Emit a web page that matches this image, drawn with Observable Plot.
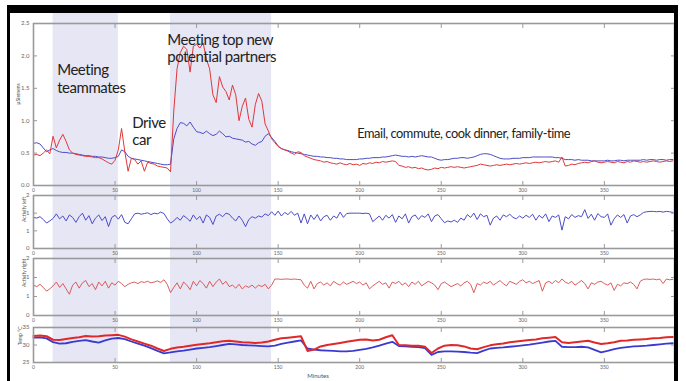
<!DOCTYPE html>
<html>
<head>
<meta charset="utf-8">
<script src="https://cdn.jsdelivr.net/npm/d3@7"></script>
<script src="https://cdn.jsdelivr.net/npm/@observablehq/plot@0.6"></script>
<style>
  html, body { margin: 0; padding: 0; background: #fff; }
  #fig { position: relative; width: 686px; height: 381px; overflow: hidden; background: #fff; }
  #fig svg { position: absolute; left: 0; }
  .edge { position: absolute; background: #000; z-index: 5; }
</style>
</head>
<body>
<div id="fig"></div>
<script>
// ---- Time axis ----
const minuteMax = 393;
const minuteTicks = [0, 50, 100, 150, 200, 250, 300, 350];

// ---- Shaded episodes (minutes) ----
const shadeStart = [12, 84];
const shadeEnd = [52, 146];

// ---- Annotations ----
const noteText = ["Meeting\nteammates", "Drive\ncar", "Meeting top new\npotential partners", "Email, commute, cook dinner, family-time"];
const noteMinute = [14.5, 60.5, 82, 198.5];
const noteLevel = [1.89, 1.08, 2.36, 0.89];

// ---- Skin conductance (μSiemens), one sample every 2 minutes ----
const eda = {
  right: [
    0.47, 0.48, 0.46, 0.50, 0.55, 0.49, 0.76, 0.58, 0.70, 0.79,
    0.68, 0.55, 0.50, 0.48, 0.47, 0.46, 0.45, 0.45, 0.44, 0.43,
    0.43, 0.41, 0.38, 0.35, 0.33, 0.39, 0.55, 0.88, 0.52, 0.22,
    0.42, 0.40, 0.33, 0.38, 0.22, 0.36, 0.34, 0.33, 0.30, 0.29,
    0.28, 0.27, 0.21, 1.15, 1.80, 2.05, 2.15, 2.10, 1.75, 2.15,
    2.18, 2.12, 2.20, 1.95, 1.80, 1.40, 1.28, 1.68, 1.52, 1.45,
    1.32, 1.55, 1.40, 1.00, 1.22, 1.35, 1.02, 0.90, 1.25, 1.42,
    1.30, 0.95, 0.84, 0.72, 0.66, 0.60, 0.57, 0.55, 0.53, 0.50,
    0.48, 0.52, 0.51, 0.46, 0.44, 0.42, 0.40, 0.39, 0.38, 0.36,
    0.37, 0.35, 0.34, 0.33, 0.35, 0.33, 0.32, 0.34, 0.32, 0.33,
    0.31, 0.34, 0.33, 0.35, 0.34, 0.36, 0.35, 0.37, 0.36, 0.37,
    0.38, 0.37, 0.31, 0.30, 0.28, 0.29, 0.27, 0.28, 0.26, 0.27,
    0.25, 0.24, 0.25, 0.27, 0.26, 0.28, 0.27, 0.28, 0.29, 0.28,
    0.29, 0.28, 0.27, 0.28, 0.29, 0.30, 0.31, 0.33, 0.32, 0.31,
    0.30, 0.31, 0.32, 0.31, 0.32, 0.33, 0.32, 0.33, 0.34, 0.33,
    0.34, 0.35, 0.34, 0.35, 0.36, 0.35, 0.36, 0.37, 0.36, 0.37,
    0.38, 0.36, 0.44, 0.30, 0.31, 0.33, 0.32, 0.34, 0.35, 0.36,
    0.35, 0.37, 0.38, 0.36, 0.35, 0.36, 0.37, 0.36, 0.35, 0.37,
    0.36, 0.35, 0.37, 0.36, 0.38, 0.37, 0.36, 0.37, 0.36, 0.37,
    0.38, 0.37, 0.36, 0.37, 0.38, 0.37, 0.38
  ],
  left: [
    0.65, 0.66, 0.64, 0.58, 0.52, 0.55, 0.57, 0.54, 0.52, 0.51,
    0.51, 0.50, 0.50, 0.49, 0.48, 0.47, 0.46, 0.46, 0.45, 0.45,
    0.44, 0.44, 0.43, 0.42, 0.42, 0.43, 0.45, 0.55, 0.52, 0.45,
    0.42, 0.41, 0.40, 0.39, 0.38, 0.37, 0.36, 0.35, 0.34, 0.33,
    0.32, 0.32, 0.33, 0.72, 0.88, 0.97, 0.96, 0.92, 0.98, 0.90,
    0.83, 0.82, 0.80, 0.84, 0.80, 0.77, 0.79, 0.84, 0.80, 0.75,
    0.76, 0.73, 0.72, 0.71, 0.70, 0.67, 0.68, 0.64, 0.62, 0.66,
    0.68, 0.76, 0.80, 0.74, 0.68, 0.61, 0.57, 0.55, 0.54, 0.52,
    0.51, 0.50, 0.49, 0.48, 0.47, 0.46, 0.45, 0.45, 0.44, 0.44,
    0.43, 0.43, 0.42, 0.42, 0.41, 0.41, 0.40, 0.40, 0.40, 0.40,
    0.41, 0.41, 0.42, 0.42, 0.43, 0.43, 0.43, 0.44, 0.44, 0.45,
    0.46, 0.47, 0.46, 0.45, 0.45, 0.44, 0.45, 0.44, 0.45, 0.46,
    0.45, 0.44, 0.44, 0.42, 0.40, 0.39, 0.40, 0.40, 0.41, 0.42,
    0.42, 0.43, 0.43, 0.42, 0.43, 0.44, 0.46, 0.48, 0.49, 0.49,
    0.48, 0.46, 0.44, 0.42, 0.41, 0.41, 0.41, 0.42, 0.42, 0.42,
    0.43, 0.43, 0.43, 0.44, 0.44, 0.44, 0.44, 0.44, 0.44, 0.44,
    0.43, 0.43, 0.42, 0.40, 0.40, 0.40, 0.39, 0.40, 0.39, 0.39,
    0.39, 0.38, 0.38, 0.38, 0.38, 0.38, 0.39, 0.38, 0.38, 0.39,
    0.39, 0.38, 0.39, 0.39, 0.39, 0.39, 0.39, 0.40, 0.39, 0.40,
    0.40, 0.39, 0.40, 0.40, 0.39, 0.40, 0.40
  ]
};

// ---- Wrist activity, one sample every 2 minutes ----
const activityLeft = [
  0.88, 0.86, 0.90, 0.82, 0.72, 0.78, 0.85, 0.98, 0.84, 0.92,
  0.78, 0.95, 0.88, 0.74, 0.90, 1.00, 0.80, 0.93, 0.70, 0.86,
  0.95, 0.79, 0.90, 0.62, 0.88, 0.94, 0.83, 0.96, 0.74, 0.70,
  0.84, 0.98, 1.00, 0.97, 0.99, 1.01, 0.96, 1.00, 0.98, 1.03,
  0.99, 0.84, 0.72, 0.78, 0.88, 0.80, 0.93, 0.86, 0.77, 0.95,
  0.82, 0.91, 0.72, 0.95, 0.88, 0.68, 0.92, 0.97, 0.90, 1.00,
  0.97, 0.86, 0.78, 0.92, 0.80, 0.62, 0.82, 0.90, 0.86, 0.92,
  0.89, 0.98, 0.93, 1.04, 0.94, 1.06, 0.92, 1.02, 0.96, 1.05,
  0.94, 1.00, 0.72, 0.98, 0.70, 0.95, 0.82, 0.96, 0.78, 0.90,
  0.94, 0.80, 0.92, 0.86, 1.03, 0.88, 0.99, 1.00, 1.00, 1.00,
  1.00, 0.99, 1.00, 0.98, 0.76, 0.84, 0.92, 0.80, 0.94, 0.86,
  0.96, 0.74, 0.92, 0.84, 0.98, 0.72, 0.90, 0.95, 0.82, 0.93,
  0.88, 0.98, 0.76, 0.92, 0.96, 0.84, 0.73, 0.78, 0.75, 0.80,
  0.74, 0.86, 0.80, 0.96, 0.88, 1.00, 0.82, 0.98, 0.90, 0.94,
  0.66, 0.86, 0.92, 0.80, 0.95, 0.90, 0.97, 0.88, 0.84, 0.92,
  0.86, 0.94, 0.88, 0.97, 0.80, 0.94, 0.86, 0.98, 0.76, 0.92,
  0.88, 0.95, 0.52, 0.90, 0.84, 0.96, 0.88, 0.93, 0.90, 1.10,
  0.85, 0.97, 0.80, 0.99, 0.90, 0.88, 0.98, 0.66, 0.84, 0.95,
  0.88, 0.96, 0.72, 0.92, 0.96, 0.90, 0.95, 1.02, 1.04, 1.05,
  1.05, 1.04, 1.05, 1.03, 1.05, 1.04, 1.02
];
const activityRight = [
  0.80, 0.76, 0.82, 0.74, 0.64, 0.70, 0.78, 0.88, 0.74, 0.84,
  0.70, 0.56, 0.80, 0.88, 0.72, 0.86, 0.92, 0.76, 0.84, 0.68,
  0.88, 0.78, 0.90, 0.72, 0.86, 0.80, 0.90, 0.84, 0.76, 0.82,
  0.86, 0.88, 0.84, 0.89, 0.87, 0.90, 0.86, 0.88, 0.91, 0.87,
  0.94, 0.82, 0.60, 0.74, 0.86, 0.70, 0.88, 0.80, 0.68, 0.90,
  0.78, 0.92, 0.84, 0.72, 0.90, 0.76, 0.88, 0.96, 0.82, 0.90,
  0.76, 0.80, 0.72, 0.82, 0.70, 0.78, 0.74, 0.80, 0.72, 0.80,
  0.76, 0.82, 0.70, 0.80, 0.96, 0.96, 0.95, 0.96, 0.96, 0.95,
  0.96, 0.95, 0.94, 0.80, 0.72, 0.90, 0.70, 0.84, 0.88, 0.80,
  0.86, 0.78, 0.90, 0.84, 0.80, 0.88, 0.82, 0.86, 0.90, 0.84,
  0.88, 0.80, 0.86, 0.70, 0.78, 0.84, 0.90, 0.82, 0.86, 0.72,
  0.88, 0.84, 0.90, 0.80, 0.86, 0.76, 0.88, 0.82, 0.90, 0.78,
  0.84, 0.90, 0.86, 0.80, 0.68, 0.84, 0.88, 0.82, 0.76, 0.80,
  0.84, 0.78, 0.86, 0.90, 0.82, 0.60, 0.84, 0.80, 0.88, 0.84,
  0.90, 0.80, 0.86, 0.92, 0.84, 0.78, 0.90, 0.86, 0.82, 0.90,
  0.94, 0.86, 0.90, 0.84, 0.88, 0.92, 0.64, 0.86, 0.90, 0.84,
  0.92, 0.86, 0.96, 0.88, 0.84, 0.90, 0.80, 0.86, 0.92, 0.84,
  0.70, 0.86, 0.82, 0.88, 0.90, 0.84, 0.80, 0.86, 0.66, 0.82,
  0.78, 0.86, 0.84, 0.88, 0.82, 0.70, 0.90, 0.95, 0.96, 0.95,
  0.96, 0.94, 0.96, 0.84, 0.96, 0.94, 0.95
];

// ---- Skin temperature (°C), one sample every 4 minutes ----
const tempRight = [
  32.6, 32.7, 32.5, 31.5, 31.4, 31.7, 32.0, 32.2, 32.6, 32.4,
  32.5, 32.7, 32.8, 32.9, 32.4, 31.6, 31.0, 30.4, 29.8, 29.0,
  28.3, 28.9, 29.3, 29.5, 29.8, 30.1, 30.3, 30.5, 30.8, 31.1,
  31.2, 31.0, 30.8, 30.7, 30.6, 30.7, 31.0, 31.5, 31.9, 32.1,
  32.3, 32.5, 28.3, 28.7, 29.6, 30.0, 30.3, 30.6, 30.9, 31.2,
  31.5, 31.6, 31.3, 31.5, 32.2, 32.8, 30.0, 29.9, 29.8, 29.8,
  29.5, 27.7, 29.0, 29.8, 30.0, 29.9, 29.6, 29.0, 28.8, 29.4,
  29.9, 30.2, 30.4, 30.8, 31.0, 31.2, 31.4, 31.6, 31.9, 32.1,
  32.3, 30.8, 30.6, 30.8, 31.0, 31.2, 30.7, 30.3, 30.5, 30.8,
  31.2, 31.3, 31.5, 31.6, 31.7, 31.9, 32.0, 32.2, 32.3
];
const tempLeft = [
  32.1, 32.2, 31.9, 30.8, 30.4, 30.5, 30.9, 31.2, 31.4, 31.0,
  30.7, 31.3, 31.8, 32.0, 31.7, 31.0, 30.4, 29.8, 29.1, 28.3,
  27.6, 27.9, 28.2, 28.4, 28.7, 29.0, 29.2, 29.4, 29.7, 30.0,
  30.3, 30.2, 30.0, 29.9, 29.8, 29.7, 29.6, 29.8, 30.3, 30.7,
  31.0, 31.3, 29.0, 28.7, 28.5, 28.4, 28.3, 28.2, 28.2, 28.3,
  28.6, 28.9, 29.3, 29.8, 30.4, 30.9, 29.7, 29.6, 29.5, 29.4,
  29.1, 27.2, 28.0, 28.2, 28.2, 28.1, 28.0, 27.8, 27.7, 28.4,
  29.0, 29.2, 29.3, 29.5, 29.7, 29.9, 30.1, 30.4, 30.7, 31.0,
  31.2, 29.5, 29.4, 29.4, 29.5, 29.3, 28.6, 27.9, 28.3, 28.8,
  29.2, 29.4, 29.6, 29.7, 29.8, 30.0, 30.2, 30.4, 30.5
];

// Turn a sampled series into {minute, value} rows
const sampled = (values, step) => values.map((value, i) => ({minute: i * step, value}));

const RED = "#e0383a";
const BLUE = "#4c4cc8";
const AXIS = "#9a9a9a";
const fig = document.getElementById("fig");

// Background layer: shaded episodes spanning all four panels
const shades = shadeStart.map((s, i) => ({start: s, end: shadeEnd[i]}));
const background = Plot.plot({
  width: 686, height: 381,
  marginLeft: 33, marginRight: 12, marginTop: 13, marginBottom: 19,
  x: {domain: [0, minuteMax], axis: null},
  style: {background: "transparent"},
  marks: [Plot.rect(shades, {x1: "start", x2: "end", fill: "#e6e6f5"})]
});
background.style.top = "0px";
fig.appendChild(background);

// One stacked panel sharing the minute axis
function panel({frameTop, frameHeight, yDomain, yTicks, yLabel, labelDx, marks, extraBottom = 0}) {
  const top = 10, bottom = 10 + extraBottom;
  const noLabel = () => "";
  const chart = Plot.plot({
    width: 686,
    height: frameHeight + top + bottom,
    marginLeft: 33, marginRight: 12, marginTop: top, marginBottom: bottom,
    x: {domain: [0, minuteMax]},
    y: {domain: yDomain},
    style: {background: "transparent", fontFamily: "Lato, 'DejaVu Sans', sans-serif", overflow: "visible"},
    marks: [
      ...marks,
      Plot.frame({stroke: AXIS, strokeWidth: 1.6}),
      Plot.axisX(minuteTicks, {anchor: "bottom", tickSize: -4, tickFormat: noLabel, stroke: AXIS, label: null}),
      Plot.axisX(minuteTicks, {anchor: "top", tickSize: -4, tickFormat: noLabel, stroke: AXIS, label: null}),
      Plot.axisY(yTicks, {anchor: "left", tickSize: -4, tickFormat: noLabel, stroke: AXIS, label: null}),
      Plot.axisY(yTicks, {anchor: "right", tickSize: -4, tickFormat: noLabel, stroke: AXIS, label: null}),
      Plot.axisX(minuteTicks, {anchor: "bottom", tickSize: 0, tickPadding: 3, fontSize: 5, fill: "#666", label: null}),
      Plot.axisY(yTicks, {anchor: "left", tickSize: 0, tickPadding: 4, fontSize: 6, fill: "#666", label: null}),
      Plot.text([yLabel], {frameAnchor: "left", rotate: -90, dx: labelDx, fontSize: 5, fill: "#555"})
    ]
  });
  chart.style.top = (frameTop - top) + "px";
  fig.appendChild(chart);
  return chart;
}

// Panel 1: skin conductance with annotations
const edaPanel = panel({
  frameTop: 23, frameHeight: 162,
  yDomain: [0, 2.5], yTicks: [0, 0.5, 1, 1.5, 2, 2.5], yLabel: "μSiemens", labelDx: -15,
  marks: [
    Plot.line(sampled(eda.left, 2), {x: "minute", y: "value", stroke: BLUE, strokeWidth: 1}),
    Plot.line(sampled(eda.right, 2), {x: "minute", y: "value", stroke: RED, strokeWidth: 1}),
    Plot.text(noteText, {
      x: (d, i) => noteMinute[i], y: (d, i) => noteLevel[i], text: d => d,
      textAnchor: "start", lineAnchor: "top", lineHeight: 1.15,
      fontSize: (d, i) => i === 3 ? 12.8 : 15, fill: "#222"
    })
  ]
});
// The annotation lettering is set a little tighter than the default tracking
d3.select(d3.select(edaPanel).selectAll('g[aria-label="text"]').node())
  .selectAll("text").style("letter-spacing", "-0.45px");

// Panel 2: left wrist activity
panel({
  frameTop: 195, frameHeight: 53,
  yDomain: [0, 1.5], yTicks: [0, 0.5, 1, 1.5], yLabel: "Activity left", labelDx: -9,
  marks: [Plot.line(sampled(activityLeft, 2), {x: "minute", y: "value", stroke: BLUE, strokeWidth: 1})]
});

// Panel 3: right wrist activity
panel({
  frameTop: 258, frameHeight: 57,
  yDomain: [0, 1.5], yTicks: [0, 0.5, 1, 1.5], yLabel: "Activity right", labelDx: -9,
  marks: [Plot.line(sampled(activityRight, 2), {x: "minute", y: "value", stroke: "#d84a4a", strokeWidth: 0.9})]
});

// Panel 4: skin temperature
panel({
  frameTop: 327, frameHeight: 35,
  yDomain: [25, 35], yTicks: [25, 30, 35], yLabel: "Temp °C", labelDx: -13, extraBottom: 10,
  marks: [
    Plot.line(sampled(tempLeft, 4), {x: "minute", y: "value", stroke: "#3a3ad0", strokeWidth: 1.8}),
    Plot.line(sampled(tempRight, 4), {x: "minute", y: "value", stroke: "#e02828", strokeWidth: 2}),
    Plot.text(["Minutes"], {frameAnchor: "bottom", dy: 15, dx: -36, fontSize: 6, fill: "#555"})
  ]
});

// Black slide border
[[7, 5, 671, 8], [7, 5, 3, 376], [674, 5, 4, 376]].forEach(([l, t, w, h]) => {
  const d = document.createElement("div");
  d.className = "edge";
  Object.assign(d.style, {left: l + "px", top: t + "px", width: w + "px", height: h + "px"});
  fig.appendChild(d);
});
</script>
</body>
</html>
